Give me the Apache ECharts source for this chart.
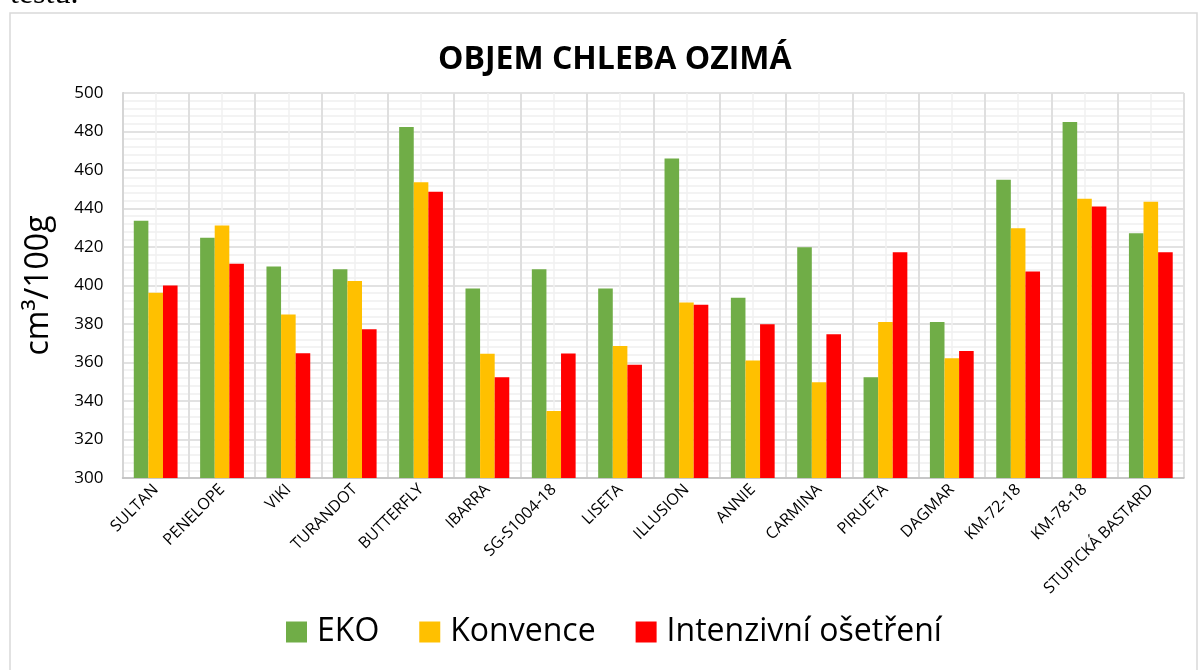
<!DOCTYPE html>
<html>
<head>
    <meta charset="utf-8">
    <style>
        html, body { margin: 0; padding: 0; background: #fff; }
        #main { width: 1200px; height: 670px; }
    </style>
    <script src="https://cdn.jsdelivr.net/npm/echarts@6.0.0/dist/echarts.min.js"></script>
</head>
<body>
    <div id="main"></div>
    <script type="text/javascript">
        // odrůdy a objem chleba (cm3/100g)
        var categories = ['SULTAN', 'PENELOPE', 'VIKI', 'TURANDOT', 'BUTTERFLY', 'IBARRA', 'SG-S1004-18', 'LISETA',
            'ILLUSION', 'ANNIE', 'CARMINA', 'PIRUETA', 'DAGMAR', 'KM-72-18', 'KM-78-18', 'STUPICKÁ BASTARD'];
        var eko = [433.6, 424.8, 409.9, 408.5, 482.3, 398.4, 408.5, 398.4, 466.0, 393.6, 419.9, 352.3, 381.1, 455.0, 484.9, 427.2];
        var konvence = [396.2, 431.2, 384.9, 402.4, 453.6, 364.6, 334.8, 368.6, 391.2, 361.0, 349.7, 381.1, 362.2, 429.8, 445.1, 443.5];
        var intenzivni = [400.0, 411.3, 364.8, 377.3, 448.7, 352.3, 364.7, 358.8, 390.0, 379.9, 374.7, 417.3, 366.0, 407.3, 441.1, 417.3];
        var seriesNames = ['EKO', 'Konvence', 'Intenzivní ošetření'];
        var colors = ['#70AD47', '#FFC000', '#FF0000'];
        var yMin = 300, yMax = 500, yStep = 20;

        var font = 'Open Sans';
        var myChart = echarts.init(document.getElementById('main'));

        var option = {
            backgroundColor: '#fff',
            animation: false,
            color: colors,
            title: {
                text: 'OBJEM CHLEBA OZIMÁ',
                left: 433,
                top: 39,
                textStyle: { fontFamily: font, fontSize: 32, fontWeight: 'bold', color: '#000' }
            },
            legend: {
                data: seriesNames,
                left: 281,
                top: 611,
                icon: 'rect',
                itemWidth: 21,
                itemHeight: 21,
                itemGap: 40,
                textStyle: { fontFamily: font, fontSize: 32, color: '#000', padding: [0, 0, 0, 5] }
            },
            graphic: [{
                type: 'rect',
                shape: { x: 10, y: 13, width: 1187, height: 700 },
                style: { fill: 'none', stroke: '#d9d9d9', lineWidth: 1.5 },
                silent: true
            }, {
                type: 'text',
                x: 10,
                y: 11,
                style: { text: 'testu.', font: '32px "Liberation Serif"', fill: '#000', verticalAlign: 'bottom' },
                silent: true
            }],
            grid: {
                left: 122.5,
                right: 16,
                top: 93,
                bottom: 192,
                containLabel: false
            },
            xAxis: [{
                type: 'category',
                data: categories,
                z: 1,
                axisLine: { lineStyle: { color: '#bfbfbf', width: 1.5 } },
                axisTick: { show: false },
                axisLabel: {
                    interval: 0,
                    rotate: 45,
                    margin: 9,
                    fontFamily: font,
                    fontSize: 16,
                    color: '#000'
                },
                splitLine: { show: true, lineStyle: { color: '#d9d9d9', width: 1.5 } }
            }, {
                // pomocné svislé čáry ve středu kategorií
                type: 'value',
                min: 0,
                max: categories.length * 2,
                interval: 1,
                z: 0,
                axisLine: { show: false },
                axisTick: { show: false },
                axisLabel: { show: false },
                splitLine: { show: true, lineStyle: { color: '#f0f0f0', width: 1.5 } }
            }],
            yAxis: {
                type: 'value',
                min: yMin,
                max: yMax,
                interval: yStep,
                name: 'cm³/100g',
                nameLocation: 'middle',
                nameGap: 68,
                nameTextStyle: { fontFamily: font, fontSize: 32, color: '#000' },
                axisLine: { show: true, lineStyle: { color: '#bfbfbf', width: 1.5 } },
                axisTick: { show: false },
                axisLabel: { fontFamily: font, fontSize: 17, color: '#000', margin: 19 },
                splitLine: { show: true, lineStyle: { color: '#d9d9d9', width: 1.5 } },
                minorTick: { show: false, splitNumber: 5 },
                minorSplitLine: { show: true, lineStyle: { color: '#f0f0f0', width: 1.5 } }
            },
            series: [{
                name: seriesNames[0],
                type: 'bar',
                data: eko,
                barGap: '0%',
                barCategoryGap: '34%'
            }, {
                name: seriesNames[1],
                type: 'bar',
                data: konvence,
                barGap: '0%',
                barCategoryGap: '34%'
            }, {
                name: seriesNames[2],
                type: 'bar',
                data: intenzivni,
                barGap: '0%',
                barCategoryGap: '34%'
            }]
        };

        myChart.setOption(option);
    </script>
</body>
</html>
